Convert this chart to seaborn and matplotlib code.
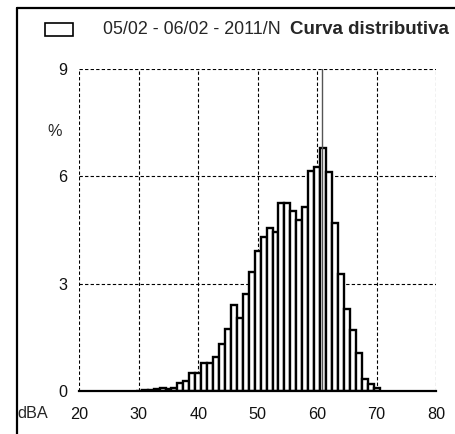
import matplotlib
matplotlib.use("Agg")
import matplotlib.pyplot as plt
from matplotlib.lines import Line2D
from matplotlib.patches import Rectangle
import seaborn as sns
import numpy as np

# sound level classes (dBA) and share of time (%)
levels = list(range(30, 71))
percent = [0.01, 0.02, 0.04, 0.05, 0.08, 0.05, 0.07, 0.22, 0.27, 0.51,
           0.50, 0.79, 0.79, 0.96, 1.30, 1.74, 2.40, 2.03, 2.71, 3.31,
           3.90, 4.29, 4.54, 4.43, 5.26, 5.26, 5.03, 4.77, 5.13, 6.15,
           6.24, 6.77, 6.12, 4.68, 3.27, 2.28, 1.70, 1.07, 0.33, 0.19,
           0.08]
x_ticks = [20, 30, 40, 50, 60, 70, 80]
y_ticks = [0, 3, 6, 9]
marker_level = 60.9
period_label = "05/02 - 06/02 - 2011/N"
chart_title = "Curva distributiva"

sns.set_style("white")
plt.rcParams['font.family'] = ['Liberation Sans', 'DejaVu Sans']

W, H = 456, 434
fig = plt.figure(figsize=(W / 100, H / 100), dpi=100)
ax = fig.add_axes([79.3 / W, 1 - 391 / H, (436 - 79.3) / W, (391 - 68.5) / H])

sns.histplot(x=levels, weights=percent, discrete=True, stat='count',
             color='white', edgecolor='black', linewidth=1.7, alpha=1,
             ax=ax, zorder=2)

ax.set_xlim(20, 80)
ax.set_ylim(0, 9)
ax.set_xticks(x_ticks)
ax.set_yticks(y_ticks)
ax.set_xlabel('')
ax.set_ylabel('')
for v in x_ticks:
    ax.axvline(v, color='black', lw=0.8, ls=(0, (3, 2)), zorder=1)
for v in y_ticks[1:]:
    ax.axhline(v, color='black', lw=0.8, ls=(0, (3, 2)), zorder=1)
ax.axvline(marker_level, color='#555555', lw=1.0, zorder=3)

for s in ['top', 'right', 'left']:
    ax.spines[s].set_visible(False)
ax.spines['bottom'].set_color('black')
ax.spines['bottom'].set_linewidth(1.6)
ax.spines['bottom'].set_zorder(4)
ax.tick_params(axis='both', direction='out', length=6.5, width=1.0,
               color='#808080', labelsize=11.7, labelcolor='#111111')
ax.tick_params(axis='x', pad=5)
ax.tick_params(axis='y', pad=2)

# labels around the axes
fig.text(55 / W, 1 - 131 / H, '%', fontsize=11.7, ha='center', va='center')
fig.text(17 / W, 1 - 413 / H, 'dBA', fontsize=11.7, ha='left', va='center')

# legend-like header
fig.add_artist(Rectangle((45 / W, 1 - 36 / H), 28 / W, 13 / H,
                         transform=fig.transFigure, facecolor='white',
                         edgecolor='black', lw=1.2))
fig.text(103 / W, 1 - 29 / H, period_label, fontsize=12.9, ha='left', va='center')
fig.text(290 / W, 1 - 30 / H, chart_title, fontsize=13.5, fontweight='bold',
         ha='left', va='center')

# outer frame
fig.add_artist(Line2D([16.5 / W, 16.5 / W], [0, 1 - 8 / H], transform=fig.transFigure,
                      color='black', lw=1.6))
fig.add_artist(Line2D([16.5 / W, 1], [1 - 8 / H, 1 - 8 / H], transform=fig.transFigure,
                      color='black', lw=1.6))

fig.savefig('out.png', dpi=100)
